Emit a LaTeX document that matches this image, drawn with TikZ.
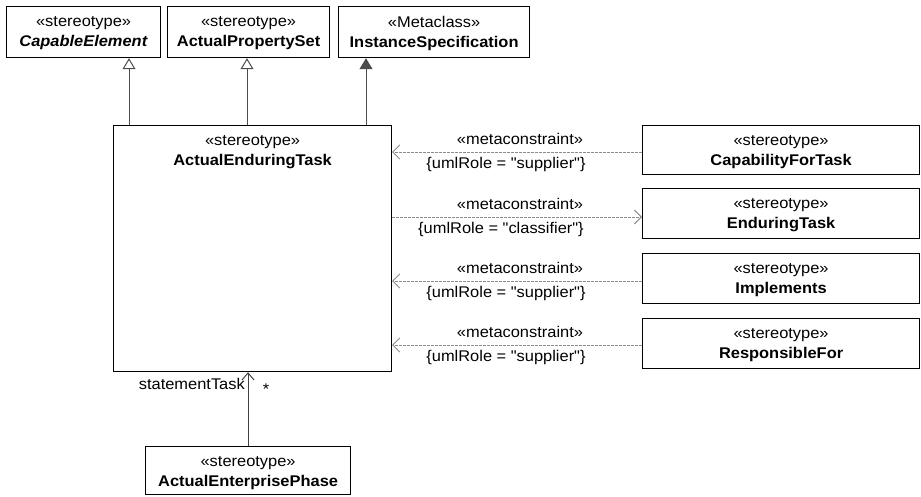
\documentclass[tikz,border=0pt]{standalone}
\usepackage{fontspec}
\setmainfont{Liberation Sans}[Ligatures=TeXOff, FakeStretch=1.06]
\usetikzlibrary{arrows.meta}
\tikzset{
  x=1pt, y=1pt,
  box/.style={draw=black, line width=1.2pt, anchor=north west, inner sep=0pt},
  txt/.style={anchor=north, align=center, inner sep=0pt, font=\fontsize{15.5}{20}\selectfont},
  lbl/.style={inner sep=0pt, font=\fontsize{15.5}{20}\selectfont},
  gen/.style={draw=black!70, line width=1pt, -{Triangle[open, length=11, width=13]}},
  genf/.style={draw=black!70, line width=1pt, -{Triangle[length=11, width=13, fill=black!70]}},
  dep/.style={draw=black!45, line width=0.8pt, dash pattern=on 3pt off 1pt, -{Straight Barb[length=7, width=14, line width=0.9pt]}},
  assoc/.style={draw=black!75, line width=1pt, -{Straight Barb[length=7, width=12]}}
}
\begin{document}
\begin{tikzpicture}
\useasboundingbox (0,0) rectangle (921,-496);
% top boxes
\node[box, minimum width=154, minimum height=51] (ce) at (6,-6) {};
\node[txt] (cet) at ([yshift=-10]ce.north) {«stereotype»\\\textbf{\textit{CapableElement}}};
\node[box, minimum width=162, minimum height=51] (aps) at (167,-6) {};
\node[txt] (apst) at ([yshift=-10]aps.north) {«stereotype»\\\textbf{ActualPropertySet}};
\node[box, minimum width=191, minimum height=51] (is) at (338,-6) {};
\node[txt] (ist) at ([yshift=-10]is.north) {«Metaclass»\\\textbf{InstanceSpecification}};
% main box
\node[box, minimum width=278, minimum height=246] (aet) at (113,-125) {};
\node[txt] (aett) at ([yshift=-10]aet.north) {«stereotype»\\\textbf{ActualEnduringTask}};
% right boxes
\node[box, minimum width=277, minimum height=49] (cft) at (642,-125) {};
\node[txt] (cftt) at ([yshift=-10]cft.north) {«stereotype»\\\textbf{CapabilityForTask}};
\node[box, minimum width=277, minimum height=50] (et) at (642,-188) {};
\node[txt] (ett) at ([yshift=-10]et.north) {«stereotype»\\\textbf{EnduringTask}};
\node[box, minimum width=277, minimum height=50] (imp) at (642,-253) {};
\node[txt] (impt) at ([yshift=-10]imp.north) {«stereotype»\\\textbf{Implements}};
\node[box, minimum width=277, minimum height=50] (rf) at (642,-318) {};
\node[txt] (rft) at ([yshift=-10]rf.north) {«stereotype»\\\textbf{ResponsibleFor}};
% bottom box
\node[box, minimum width=205, minimum height=48] (aep) at (145,-446) {};
\node[txt] (aept) at ([yshift=-10]aep.north) {«stereotype»\\\textbf{ActualEnterprisePhase}};
% generalizations
\coordinate (g1) at (129,0);
\coordinate (g2) at (247,0);
\coordinate (g3) at (366,0);
\draw[gen] (aet.north -| g1) -- (ce.south -| g1);
\draw[gen] (aet.north -| g2) -- (aps.south -| g2);
\draw[genf] (aet.north -| g3) -- (is.south -| g3);
% dependencies
\coordinate (d1) at (0,-152);
\coordinate (d2) at (0,-217);
\coordinate (d3) at (0,-281);
\coordinate (d4) at (0,-345);
\draw[dep] (cft.west |- d1) -- (aet.east |- d1);
\draw[dep] (aet.east |- d2) -- (et.west |- d2);
\draw[dep] (imp.west |- d3) -- (aet.east |- d3);
\draw[dep] (rf.west |- d4) -- (aet.east |- d4);
\node[lbl] (m1) at (520,-139) {«metaconstraint»};
\node[lbl] (r1) at (506,-164) {\{umlRole = "supplier"\}};
\node[lbl] (m2) at (520,-204) {«metaconstraint»};
\node[lbl] (r2) at (501,-229) {\{umlRole = "classifier"\}};
\node[lbl] (m3) at (520,-268) {«metaconstraint»};
\node[lbl] (r3) at (506,-293) {\{umlRole = "supplier"\}};
\node[lbl] (m4) at (520,-332) {«metaconstraint»};
\node[lbl] (r4) at (506,-357) {\{umlRole = "supplier"\}};
% association
\coordinate (a1) at (248,0);
\draw[assoc] (aep.north -| a1) -- (aet.south -| a1);
\node[lbl, anchor=east] (st) at (245,-384) {statementTask};
\node[lbl] (star) at (266,-389) {*};
\end{tikzpicture}
\end{document}
